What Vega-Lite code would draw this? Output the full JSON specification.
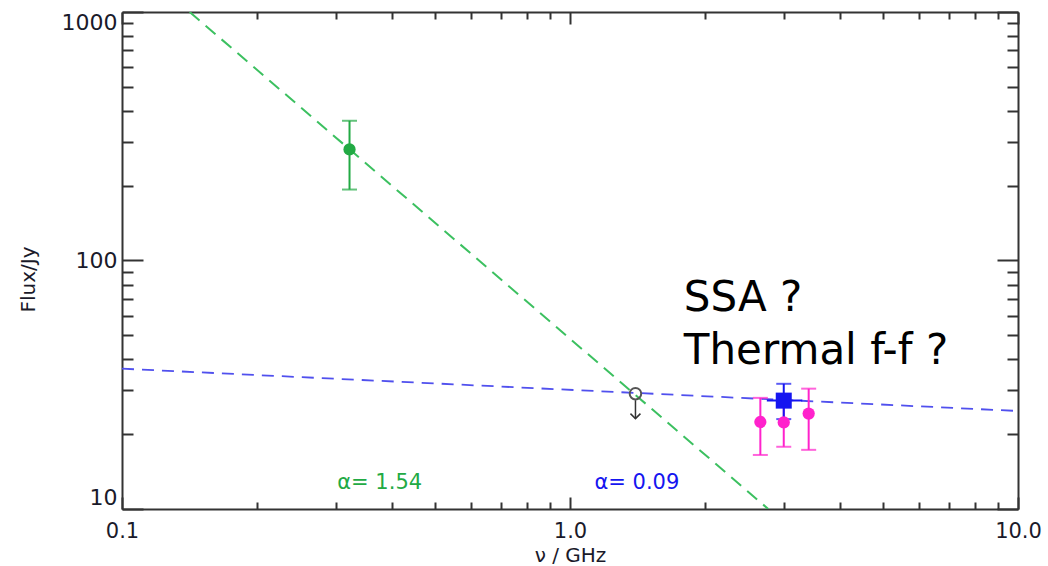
{
  "$schema": "https://vega.github.io/schema/vega-lite/v6.json",
  "width": 896,
  "height": 497,
  "autosize": {"type": "none"},
  "padding": {"left": 122, "top": 12, "right": 30, "bottom": 57},
  "background": "white",
  "config": {
    "view": {"stroke": null},
    "font": "DejaVu Sans",
    "axis": {
      "grid": false,
      "domainColor": "#333333",
      "domainWidth": 2,
      "tickColor": "#333333",
      "tickWidth": 2,
      "labelFont": "DejaVu Sans",
      "labelFontSize": 22,
      "labelColor": "#1a1a2a",
      "titleFont": "DejaVu Sans",
      "titleFontSize": 22,
      "titleFontWeight": "normal",
      "titleColor": "#1a1a2a"
    }
  },
  "datasets": {
    "pts": [
      {"nu": 0.322, "flux": 280, "lo": 193, "hi": 365, "grp": "g", "shp": "circle"},
      {"nu": 2.66, "flux": 22.4, "lo": 16.5, "hi": 28.0, "grp": "p", "shp": "circle"},
      {"nu": 3.0, "flux": 22.3, "lo": 17.8, "hi": 27.0, "grp": "p", "shp": "circle"},
      {"nu": 3.41, "flux": 24.2, "lo": 17.3, "hi": 30.5, "grp": "p", "shp": "circle"},
      {"nu": 3.0, "flux": 27.3, "lo": 23.0, "hi": 31.9, "xlo": 2.75, "xhi": 3.3, "grp": "b", "shp": "square"}
    ],
    "blueline": [
      {"nu": 0.1, "flux": 36.7},
      {"nu": 10, "flux": 24.8}
    ],
    "greenline": [
      {"nu": 0.1416, "flux": 1000},
      {"nu": 2.77, "flux": 10}
    ],
    "limit": [
      {"nu": 1.4, "flux": 29.1, "top": 27.4, "bottom": 23.1}
    ],
    "alphas": [
      {"nu": 0.376, "flux": 12.7, "txt": "α= 1.54", "grp": "g"},
      {"nu": 1.41, "flux": 12.7, "txt": "α= 0.09", "grp": "b"}
    ],
    "notes": [
      {"nu": 1.795, "flux": 62.8, "txt": "SSA ?"},
      {"nu": 1.795, "flux": 38.5, "txt": "Thermal f-f ?"}
    ]
  },
  "resolve": {
    "scale": {"x": "shared", "y": "shared"},
    "axis": {"x": "independent", "y": "independent"}
  },
  "layer": [
    {
      "data": {"name": "blueline"},
      "mark": {"type": "line", "color": "#5050ee", "strokeWidth": 1.8, "strokeDash": [12, 8], "clip": true},
      "encoding": {
        "x": {
          "field": "nu", "type": "quantitative",
          "scale": {"type": "log", "domain": [0.1, 10], "nice": false},
          "axis": {
            "orient": "bottom",
            "title": "ν / GHz",
            "titleFontSize": 20,
            "titleY": 36,
            "titleBaseline": "top",
            "values": [0.1, 0.2, 0.3, 0.4, 0.5, 0.6, 0.7, 0.8, 0.9, 1, 2, 3, 4, 5, 6, 7, 8, 9, 10],
            "labelExpr": "datum.value == 0.1 ? '0.1' : (datum.value == 1 ? '1.0' : (datum.value == 10 ? '10.0' : ''))",
            "tickSize": {"condition": {"test": "datum.value == 0.1 || datum.value == 1 || datum.value == 10", "value": -12}, "value": -7},
            "labelFontSize": 21,
            "labelPadding": 23,
            "labelFlush": false,
            "labelOverlap": false
          }
        },
        "y": {
          "field": "flux", "type": "quantitative",
          "scale": {"type": "log", "domain": [10, 1000], "nice": false},
          "axis": {
            "orient": "left",
            "title": "Flux/Jy",
            "titleFontSize": 20,
            "titleX": -84,
            "titleY": 267,
            "values": [10, 20, 30, 40, 50, 60, 70, 80, 90, 100, 200, 300, 400, 500, 600, 700, 800, 900, 1000],
            "labelExpr": "datum.value == 10 || datum.value == 100 || datum.value == 1000 ? datum.value + '' : ''",
            "tickSize": {"condition": {"test": "datum.value == 10 || datum.value == 100 || datum.value == 1000", "value": -21}, "value": -11},
            "labelPadding": 26,
            "labelFlush": true,
            "labelOverlap": false
          }
        }
      }
    },
    {
      "data": {"name": "greenline"},
      "mark": {"type": "line", "color": "#3cc060", "strokeWidth": 2, "strokeDash": [13, 8], "clip": true},
      "encoding": {
        "x": {
          "field": "nu", "type": "quantitative",
          "scale": {"type": "log", "domain": [0.1, 10], "nice": false},
          "axis": {
            "orient": "top",
            "title": null,
            "labels": false,
            "values": [0.1, 0.2, 0.3, 0.4, 0.5, 0.6, 0.7, 0.8, 0.9, 1, 2, 3, 4, 5, 6, 7, 8, 9, 10],
            "tickSize": {"condition": {"test": "datum.value == 0.1 || datum.value == 1 || datum.value == 10", "value": -12}, "value": -7}
          }
        },
        "y": {
          "field": "flux", "type": "quantitative",
          "scale": {"type": "log", "domain": [10, 1000], "nice": false},
          "axis": {
            "orient": "right",
            "title": null,
            "labels": false,
            "values": [10, 20, 30, 40, 50, 60, 70, 80, 90, 100, 200, 300, 400, 500, 600, 700, 800, 900, 1000],
            "tickSize": {"condition": {"test": "datum.value == 10 || datum.value == 100 || datum.value == 1000", "value": -21}, "value": -11}
          }
        }
      }
    },
    {
      "data": {"name": "pts"},
      "mark": {"type": "rule", "strokeWidth": 2},
      "encoding": {
        "x": {"field": "nu", "type": "quantitative", "axis": null},
        "y": {"field": "lo", "type": "quantitative", "axis": null},
        "y2": {"field": "hi"},
        "color": {"field": "grp", "type": "nominal", "legend": null,
          "scale": {"domain": ["g", "p", "b"], "range": ["#22aa44", "#ff22cc", "#1515f0"]}}
      }
    },
    {
      "data": {"name": "pts"},
      "mark": {"type": "tick", "orient": "horizontal", "size": 15, "thickness": 2},
      "encoding": {
        "x": {"field": "nu", "type": "quantitative", "axis": null},
        "y": {"field": "lo", "type": "quantitative", "axis": null},
        "color": {"field": "grp", "type": "nominal", "legend": null}
      }
    },
    {
      "data": {"name": "pts"},
      "mark": {"type": "tick", "orient": "horizontal", "size": 15, "thickness": 2},
      "encoding": {
        "x": {"field": "nu", "type": "quantitative", "axis": null},
        "y": {"field": "hi", "type": "quantitative", "axis": null},
        "color": {"field": "grp", "type": "nominal", "legend": null}
      }
    },
    {
      "data": {"name": "pts"},
      "transform": [{"filter": "isValid(datum.xlo)"}],
      "mark": {"type": "rule", "strokeWidth": 2},
      "encoding": {
        "x": {"field": "xlo", "type": "quantitative", "axis": null},
        "x2": {"field": "xhi"},
        "y": {"field": "flux", "type": "quantitative", "axis": null},
        "color": {"field": "grp", "type": "nominal", "legend": null}
      }
    },
    {
      "data": {"name": "pts"},
      "mark": {"type": "point", "filled": true, "opacity": 1},
      "encoding": {
        "x": {"field": "nu", "type": "quantitative", "axis": null},
        "y": {"field": "flux", "type": "quantitative", "axis": null},
        "color": {"field": "grp", "type": "nominal", "legend": null},
        "shape": {"field": "shp", "type": "nominal", "legend": null,
          "scale": {"domain": ["circle", "square"], "range": ["circle", "square"]}},
        "size": {"field": "shp", "type": "nominal", "legend": null,
          "scale": {"domain": ["circle", "square"], "range": [150, 256]}}
      }
    },
    {
      "data": {"name": "limit"},
      "mark": {"type": "point", "filled": false, "color": "#555555", "strokeWidth": 2, "size": 133, "shape": "circle", "opacity": 1},
      "encoding": {
        "x": {"field": "nu", "type": "quantitative", "axis": null},
        "y": {"field": "flux", "type": "quantitative", "axis": null}
      }
    },
    {
      "data": {"name": "limit"},
      "mark": {"type": "rule", "color": "#333333", "strokeWidth": 1.5},
      "encoding": {
        "x": {"field": "nu", "type": "quantitative", "axis": null},
        "y": {"field": "top", "type": "quantitative", "axis": null},
        "y2": {"field": "bottom"}
      }
    },
    {
      "data": {"name": "limit"},
      "mark": {"type": "point", "filled": false, "color": "#333333", "strokeWidth": 1.5, "size": 100, "shape": "M -1 -1 L 0 0 L 1 -1", "opacity": 1},
      "encoding": {
        "x": {"field": "nu", "type": "quantitative", "axis": null},
        "y": {"field": "bottom", "type": "quantitative", "axis": null}
      }
    },
    {
      "data": {"name": "alphas"},
      "mark": {"type": "text", "fontSize": 21, "font": "DejaVu Sans", "align": "center", "baseline": "middle"},
      "encoding": {
        "x": {"field": "nu", "type": "quantitative", "axis": null},
        "y": {"field": "flux", "type": "quantitative", "axis": null},
        "text": {"field": "txt"},
        "color": {"field": "grp", "type": "nominal", "legend": null,
          "scale": {"domain": ["g", "p", "b"], "range": ["#33bb44", "#ff22cc", "#3a3aee"]}}
      }
    },
    {
      "data": {"name": "notes"},
      "mark": {"type": "text", "fontSize": 42, "font": "DejaVu Sans", "align": "left", "baseline": "alphabetic", "color": "black"},
      "encoding": {
        "x": {"field": "nu", "type": "quantitative", "axis": null},
        "y": {"field": "flux", "type": "quantitative", "axis": null},
        "text": {"field": "txt"}
      }
    }
  ]
}
